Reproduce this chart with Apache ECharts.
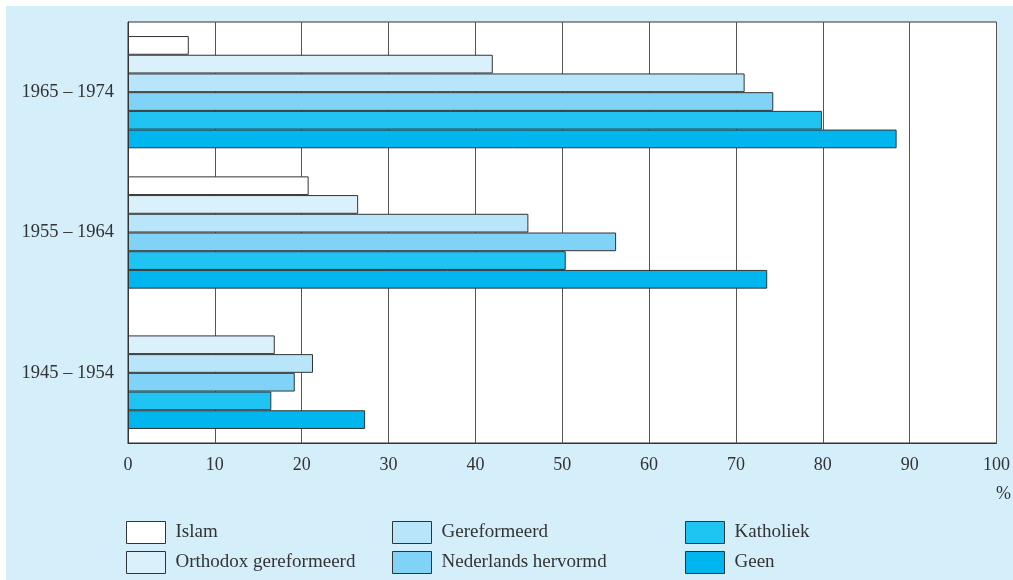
<!DOCTYPE html>
<html>
<head>
<meta charset="utf-8">
<script src="https://cdn.jsdelivr.net/npm/echarts@6/dist/echarts.min.js"></script>
<style>
  html, body { margin: 0; padding: 0; background: #fff; }
  #chart { position: absolute; left: 6px; top: 6px; width: 1007px; height: 574px; background: #d4eefa; }
</style>
</head>
<body>
<div id="chart"></div>
<script>
// periodes, van boven naar beneden
const periods = ['1965 – 1974', '1955 – 1964', '1945 – 1954']
const xTicks = [0, 10, 20, 30, 40, 50, 60, 70, 80, 90, 100]

const seriesNames = ['Islam', 'Orthodox gereformeerd', 'Gereformeerd', 'Nederlands hervormd', 'Katholiek', 'Geen']
const seriesColors = ['#ffffff', '#daf0fb', '#b8e5f9', '#80d3f6', '#1fc4f3', '#00b6ee']

// percentages per periode (zelfde volgorde als periods)
const islam = [7.0, 20.8, null]
const orthodox = [42.0, 26.5, 16.9]
const gereformeerd = [71.0, 46.1, 21.3]
const hervormd = [74.3, 56.2, 19.2]
const katholiek = [79.9, 50.4, 16.5]
const geen = [88.5, 73.6, 27.3]

const values = [islam, orthodox, gereformeerd, hervormd, katholiek, geen]

const font = '"Liberation Serif", "DejaVu Serif", serif'
const textColor = '#333'

const chart = echarts.init(document.getElementById('chart'))

const legendBlock = (names, left) => ({
  data: names,
  orient: 'vertical',
  left: left,
  top: 515,
  padding: 0,
  itemWidth: 39,
  itemHeight: 22,
  itemGap: 7,
  icon: 'rect',
  selectedMode: false,
  itemStyle: { borderColor: '#333', borderWidth: 1 },
  textStyle: { fontFamily: font, fontSize: 19, color: textColor, padding: [6, 0, 0, 5] }
})

chart.setOption({
  backgroundColor: 'transparent',
  animation: false,
  title: {
    text: '%',
    right: 2,
    top: 479,
    padding: 0,
    textStyle: { fontFamily: font, fontSize: 18, fontWeight: 'normal', color: textColor }
  },
  legend: [
    legendBlock(seriesNames.slice(0, 2), 120),
    legendBlock(seriesNames.slice(2, 4), 386),
    legendBlock(seriesNames.slice(4, 6), 679)
  ],
  grid: {
    left: 122,
    right: 14,
    top: 16,
    bottom: 137,
    show: true,
    backgroundColor: '#fff',
    borderColor: '#333',
    borderWidth: 1
  },
  xAxis: {
    type: 'value',
    min: 0,
    max: 100,
    interval: 10,
    axisLine: { show: true, lineStyle: { color: '#333', width: 1 } },
    axisTick: { show: false },
    axisLabel: {
      fontFamily: font, fontSize: 18, color: textColor, margin: 13,
      formatter: v => xTicks.includes(v) ? String(v) : ''
    },
    splitLine: { show: true, lineStyle: { color: '#555', width: 1 } }
  },
  yAxis: {
    type: 'category',
    inverse: true,
    data: periods,
    axisLine: { show: true, lineStyle: { color: '#333' } },
    axisTick: { show: false },
    axisLabel: { fontFamily: font, fontSize: 18.5, color: textColor, margin: 14, padding: [7, 0, 0, 0] }
  },
  series: seriesNames.map((name, i) => ({
    name: name,
    type: 'bar',
    data: values[i],
    barGap: 0,
    barCategoryGap: '20%',
    itemStyle: { color: seriesColors[i], borderColor: '#333', borderWidth: 1 }
  }))
})
</script>
</body>
</html>
